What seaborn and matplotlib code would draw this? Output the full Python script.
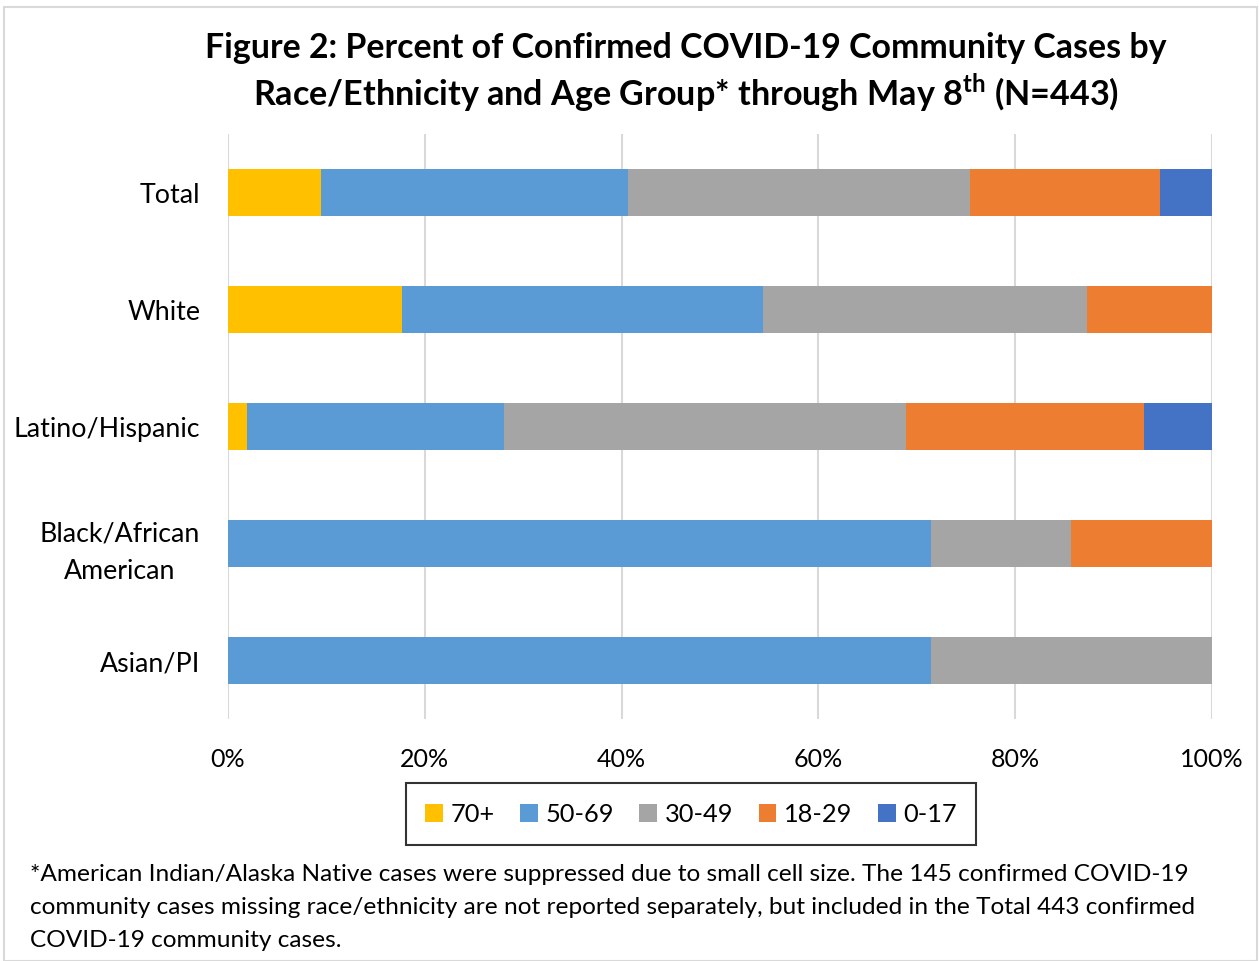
import numpy as np
import pandas as pd
import matplotlib
matplotlib.use("Agg")
import matplotlib.pyplot as plt
import seaborn as sns
from matplotlib.patches import Patch, Rectangle

groups = ["Total", "White", "Latino/Hispanic", "Black/African\nAmerican", "Asian/PI"]
ages = ["70+", "50-69", "30-49", "18-29", "0-17"]
v_70 = [9.5, 17.7, 1.9, 0.0, 0.0]
v_50 = [31.2, 36.7, 26.1, 71.4, 71.4]
v_30 = [34.7, 32.9, 40.9, 14.3, 28.6]
v_18 = [19.3, 12.7, 24.2, 14.3, 0.0]
v_0 = [5.3, 0.0, 6.9, 0.0, 0.0]
colors = ["#FFC000", "#5B9BD5", "#A5A5A5", "#ED7D31", "#4472C4"]
xticklabels = ["0%", "20%", "40%", "60%", "80%", "100%"]

sns.set_theme(style="white")
plt.rcParams["font.family"] = ["Lato", "DejaVu Sans"]
plt.rcParams["mathtext.fontset"] = "custom"
plt.rcParams["mathtext.rm"] = "Lato"
plt.rcParams["mathtext.bf"] = "Lato:bold"
plt.rcParams["text.color"] = "black"
plt.rcParams["xtick.color"] = "black"
plt.rcParams["ytick.color"] = "black"

vals = np.array([v_70, v_50, v_30, v_18, v_0])
cum = np.cumsum(vals, axis=0)
rows = []
for i, a in enumerate(ages):
    for j, g in enumerate(groups):
        rows.append({"group": g, "age": a, "cum": cum[i, j]})
df = pd.DataFrame(rows)

fig = plt.figure(figsize=(12.59, 9.62), dpi=100)
ax = fig.add_axes([228/1259, 1-720/962, (1212-228)/1259, (720-135)/962])

palette = dict(zip(ages, colors))
sns.barplot(data=df, y="group", x="cum", hue="age", hue_order=ages[::-1],
            order=groups, palette=palette, dodge=False, width=0.4,
            orient="h", ax=ax, legend=False, edgecolor="none", saturation=1)

ax.set_xlim(0, 100)
ax.set_ylim(4.5, -0.5)
ax.set_xticks(np.arange(0, 101, 20))
ax.set_xticklabels(xticklabels, fontsize=18)
ax.tick_params(axis="y", labelsize=19.3, length=0, pad=20)
ax.tick_params(axis="x", length=0, pad=20)
ax.set_xlabel("")
ax.set_ylabel("")
for lbl in ax.get_yticklabels():
    lbl.set_horizontalalignment("right")
    lbl.set_multialignment("center")
    lbl.set_linespacing(1.6)
ax.grid(axis="x", color="#d9d9d9", linewidth=1.5)
ax.set_axisbelow(True)
for s in ax.spines.values():
    s.set_visible(False)

handles = [Patch(facecolor=c, edgecolor="none") for c in colors]
leg = fig.legend(handles, ages, ncol=5, loc="center", bbox_to_anchor=(691/1259, 1-815/962),
                 fontsize=18.3, frameon=True, fancybox=False, handlelength=0.7, handleheight=0.7,
                 handletextpad=0.3, columnspacing=1.0, borderpad=0.75, borderaxespad=0)
leg.get_frame().set_edgecolor("black")
leg.get_frame().set_linewidth(1.5)

fig.text(686/1259, 1-48/962, "Figure 2: Percent of Confirmed COVID-19 Community Cases by",
         ha="center", va="center", fontsize=24.4, fontweight="bold")
fig.text(686/1259, 1-93/962,
         r"Race/Ethnicity and Age Group* through May $\mathbf{8}^{\mathbf{th}}$ (N=443)",
         ha="center", va="center", fontsize=24.6, fontweight="bold")

foot_lines = ["*American Indian/Alaska Native cases were suppressed due to small cell size. The 145 confirmed COVID-19",
              "community cases missing race/ethnicity are not reported separately, but included in the Total 443 confirmed",
              "COVID-19 community cases."]
for k, line in enumerate(foot_lines):
    fig.text(30/1259, 1-(875 + 33*k)/962, line, ha="left", va="center", fontsize=17.6)

fig.patches.append(Rectangle((4/1259, 0), 1 - 6/1259, 1 - 8/962, transform=fig.transFigure,
                             fill=False, edgecolor="#d9d9d9", linewidth=1.5))

fig.savefig("out.png", dpi=100)
